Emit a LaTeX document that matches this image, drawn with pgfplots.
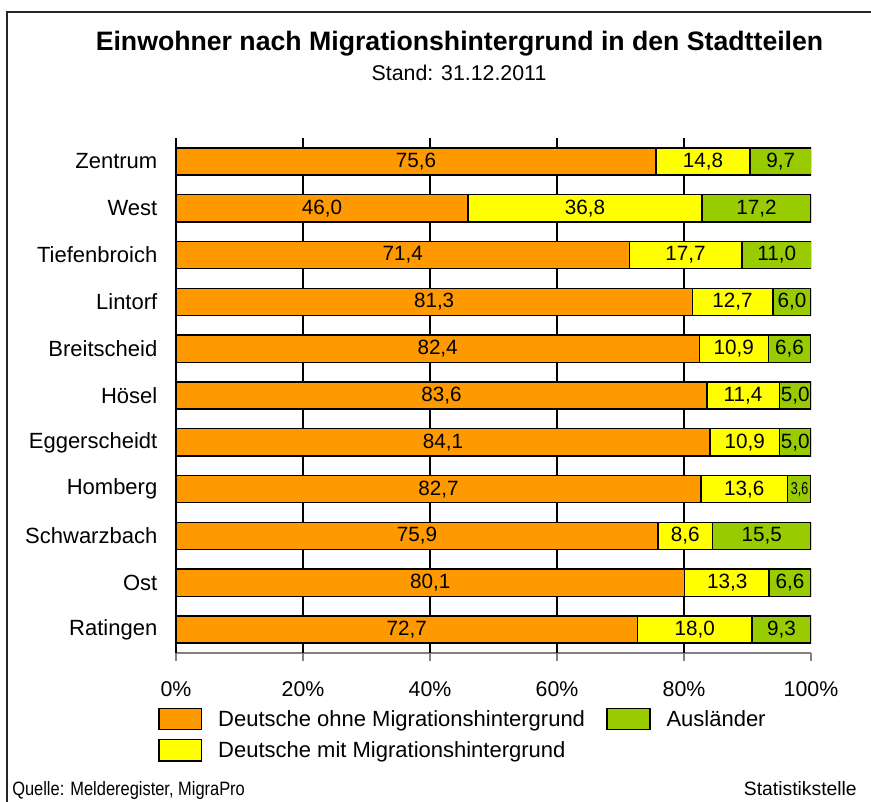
\documentclass[border=0pt]{standalone}
\usepackage{fontspec}
\setmainfont{Liberation Sans}
\usepackage{pgfplots}
\usepackage{pgfplotstable}
\pgfplotsset{compat=1.18}
\definecolor{cOrange}{HTML}{FF9900}
\definecolor{cYellow}{HTML}{FFFF00}
\definecolor{cGreen}{HTML}{99CC00}

\pgfplotstableread{
y o m a
10 75.6 14.8 9.7
9 46.0 36.8 17.2
8 71.4 17.7 11.0
7 81.3 12.7 6.0
6 82.4 10.9 6.6
5 83.6 11.4 5.0
4 84.1 10.9 5.0
3 82.7 13.6 3.6
2 75.9 8.6 15.5
1 80.1 13.3 6.6
0 72.7 18.0 9.3
}\bars

\pgfplotstableread{
x y lab
37.8 10 75,6
83.0 10 14,8
95.25 10 9,7
23.0 9 46,0
64.4 9 36,8
91.4 9 17,2
35.7 8 71,4
80.25 8 17,7
94.6 8 11,0
40.65 7 81,3
87.65 7 12,7
97.0 7 6,0
41.2 6 82,4
87.85 6 10,9
96.6 6 6,6
41.8 5 83,6
89.3 5 11,4
97.5 5 5,0
42.05 4 84,1
89.55 4 10,9
97.5 4 5,0
41.35 3 82,7
89.5 3 13,6
37.95 2 75,9
80.2 2 8,6
92.25 2 15,5
40.05 1 80,1
86.8 1 13,3
96.7 1 6,6
36.35 0 72,7
81.7 0 18,0
95.35 0 9,3
}\labs

\pgfplotstableread{
x y lab
98.2 3 3,6
}\labsmall

\pgfplotsset{
  base/.style={
    at={(132pt,-489.75pt)}, anchor=south west,
    scale only axis, width=476.25pt, height=386.25pt,
    xmin=0, xmax=100, ymin=-0.5, ymax=10.5,
  },
}

\begin{document}
\begin{tikzpicture}
\useasboundingbox (0,0) rectangle (653.25pt,-600.75pt);
\begin{scope}[x=0.75pt,y=-0.75pt]
  \draw[line width=1.4pt, black!85] (7,805) -- (7,12) -- (875,12);
  \node[font=\bfseries\fontsize{20}{24}\selectfont] at (459.5,44) {Einwohner nach Migrationshintergrund in den Stadtteilen};
  \node[font=\fontsize{16}{19}\selectfont] at (459,73) {Stand: 31.12.2011};
  \node[anchor=base west, inner sep=0pt, font=\fontsize{14.5}{17}\selectfont\addfontfeatures{FakeStretch=0.85}] at (12,795) {Quelle: Melderegister, MigraPro};
  \node[anchor=base east, inner sep=0pt, font=\fontsize{14.5}{17}\selectfont] at (857,795) {Statistikstelle};
\end{scope}

\begin{axis}[base,
  xbar stacked, bar width=0.58,
  axis x line*=bottom, axis y line*=left,
  x axis line style={gray, line width=0.9pt},
  y axis line style={black, line width=0.9pt},
  xtick={0,20,...,100},
  xticklabel={\pgfmathprintnumber{\tick}\%},
  /pgf/number format/assume math mode=true,
  xtick style={gray, line width=0.9pt},
  major tick length=6pt,
  tick align=outside,
  xticklabel style={font=\fontsize{16}{19}\selectfont, yshift=-12pt},
  extra x ticks={20,40,60,80},
  extra x tick labels={},
  extra x tick style={xmajorgrids=true, major tick length=0pt, grid style={black, line width=0.8pt}},
  ytick={0,...,10},
  yticklabels={Ratingen,Ost,Schwarzbach,Homberg,Eggerscheidt,Hösel,Breitscheid,Lintorf,Tiefenbroich,West,Zentrum},
  ytick style={draw=none},
  minor ytick={-0.5,0.5,...,10.5},
  minor tick length=6pt,
  minor tick style={black, line width=0.9pt},
  yticklabel style={font=\fontsize{16.5}{19}\selectfont, xshift=-4.5pt},
  legend columns=2,
  legend image code/.code={\draw[#1] (0pt,-8pt) rectangle (32pt,8pt);},
  legend style={at={(-0.035,-0.1)}, anchor=north west, draw=none, fill=none,
    font=\fontsize{16.5}{19}\selectfont, row sep=6pt,
    /tikz/every odd column/.append style={column sep=10pt},
    /tikz/every even column/.append style={column sep=14pt}},
  legend cell align=left,
  clip=true,
]
\addplot+[forget plot, fill=cOrange, draw=black, line width=1.1pt] table[x=o,y=y]{\bars};
\addplot+[forget plot, fill=cYellow, draw=black, line width=1.1pt] table[x=m,y=y]{\bars};
\addplot+[forget plot, fill=cGreen, draw=black, line width=1.1pt] table[x=a,y=y]{\bars};
\addlegendimage{fill=cOrange, draw=black, line width=1.1pt}
\addlegendentry{Deutsche ohne Migrationshintergrund}
\addlegendimage{fill=cGreen, draw=black, line width=1.1pt}
\addlegendentry{Ausländer}
\addlegendimage{fill=cYellow, draw=black, line width=1.1pt}
\addlegendentry{Deutsche mit Migrationshintergrund}
\end{axis}

\begin{axis}[base, hide axis, clip=false]
\addplot[draw=none, mark=none, nodes near coords, point meta=explicit symbolic,
  every node near coord/.style={anchor=center, font=\fontsize{15.5}{18}\selectfont, text=black}]
  table[x=x,y=y,meta=lab]{\labs};
\addplot[draw=none, mark=none, nodes near coords, point meta=explicit symbolic,
  every node near coord/.style={anchor=center, inner sep=0pt, font=\fontsize{13}{15}\selectfont\addfontfeatures{FakeStretch=0.72}, text=black}]
  table[x=x,y=y,meta=lab]{\labsmall};
\end{axis}
\end{tikzpicture}
\end{document}
